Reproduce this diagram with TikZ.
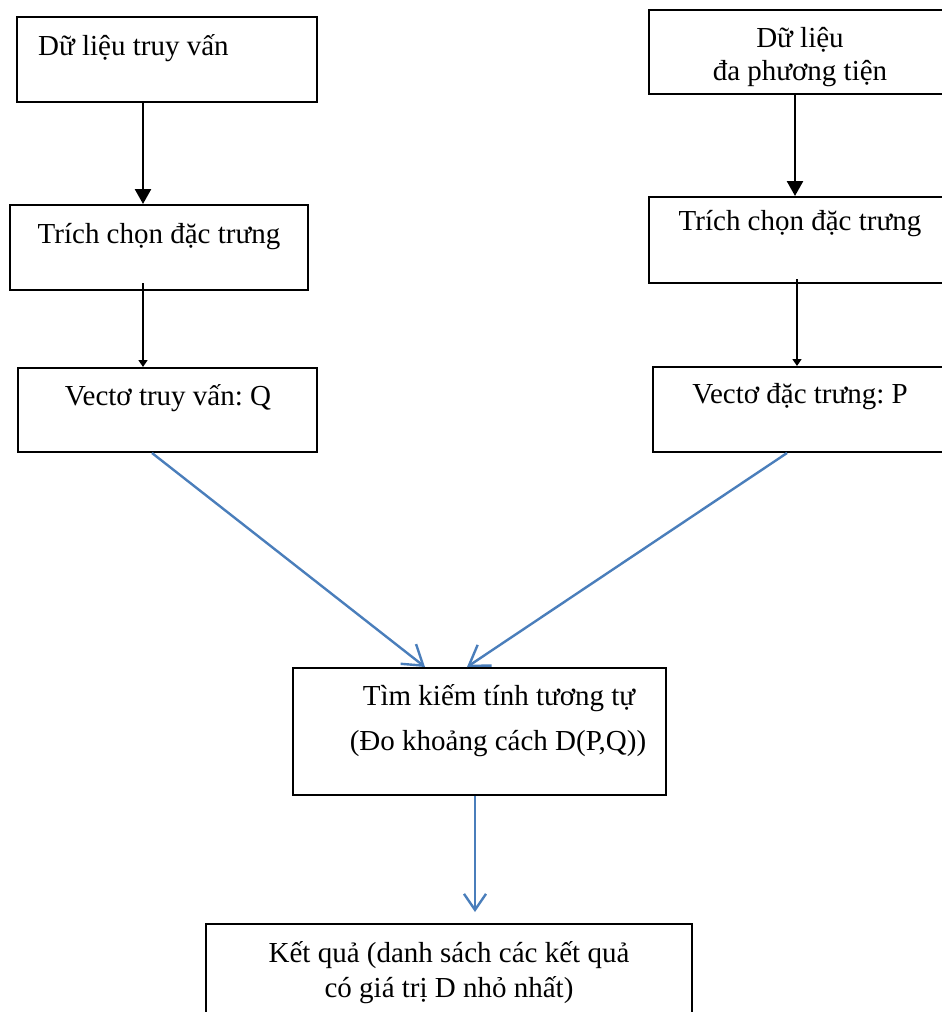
\documentclass[tikz,border=0pt]{standalone}
\usepackage{fontspec}
\setmainfont{Liberation Serif}
\usetikzlibrary{arrows.meta}
\definecolor{linkblue}{RGB}{74,126,187}
\frenchspacing
\begin{document}
\begin{tikzpicture}[x=1pt,y=-1pt,
  box/.style={draw=black,line width=2pt,rectangle,inner sep=0pt},
  lbl/.style={inner sep=0pt,font=\fontsize{29}{35}\selectfont},
  thickarr/.style={line width=2.6pt,-{Triangle[width=16pt,length=15pt]}},
  thinarr/.style={line width=1.5pt,-{Triangle[width=9pt,length=7pt]}},
  bluearr/.style={draw=linkblue,line width=2.4pt,-{Straight Barb[length=19pt,width=25pt,line width=2.4pt]}}]
\useasboundingbox (0,0) rectangle (942,1012);

% left column: query side
\node[box,minimum width=300pt,minimum height=85pt] (A) at (167,59.5) {};
\node[box,minimum width=298pt,minimum height=85pt] (B) at (159,247.5) {};
\node[box,minimum width=299pt,minimum height=84pt] (C) at (167.5,410) {};

% right column: multimedia side (runs past the right edge)
\node[box,minimum width=301pt,minimum height=84pt] (D) at (799.5,52) {};
\node[box,minimum width=301pt,minimum height=86pt] (E) at (799.5,240) {};
\node[box,minimum width=297pt,minimum height=85pt] (F) at (801.5,409.5) {};

% similarity search and result
\node[box,minimum width=373pt,minimum height=127pt] (G) at (479.5,731.5) {};
\node[box,minimum width=486pt,minimum height=106pt] (H) at (449,977) {};

% texts
\node[lbl,anchor=base west] (At) at (38,55) {Dữ liệu truy vấn};
\node[lbl,anchor=base] (Bt) at (159,243) {Trích chọn đặc trưng};
\node[lbl,anchor=base] (Ct) at (168,405) {Vectơ truy vấn: Q};
\node[lbl,anchor=base] (Dt1) at (800,47) {Dữ liệu};
\node[lbl,anchor=base] (Dt2) at (800,80) {đa phương tiện};
\node[lbl,anchor=base] (Et) at (800,230) {Trích chọn đặc trưng};
\node[lbl,anchor=base] (Ft) at (800,403) {Vectơ đặc trưng: P};
\node[lbl,anchor=base] (Gt1) at (499,705) {Tìm kiếm tính tương tự};
\node[lbl,anchor=base] (Gt2) at (498,750) {(Đo khoảng cách D(P,Q))};
\node[lbl,anchor=base] (Ht1) at (449,962) {Kết quả (danh sách các kết quả};
\node[lbl,anchor=base] (Ht2) at (449,997) {có giá trị D nhỏ nhất)};

% connectors
\draw[thickarr] ([xshift=-24pt]A.south) -- ([xshift=-24pt]A.south |- B.north);
\draw[thinarr] ([xshift=-16pt,yshift=8pt]B.south) -- ([xshift=-16pt]B.south |- C.north);
\draw[thickarr] ([xshift=-4.5pt]D.south) -- ([xshift=-4.5pt]D.south |- E.north);
\draw[thinarr] ([xshift=-2.5pt,yshift=5pt]E.south) -- ([xshift=-2.5pt]E.south |- F.north);
\draw[bluearr] ([xshift=-15.5pt]C.south) -- ([xshift=-54.5pt]G.north);
\draw[bluearr] ([xshift=-14.5pt]F.south) -- ([xshift=-12.5pt]G.north);
\draw[bluearr,shorten >=11pt,-{Straight Barb[length=16pt,width=22pt,line width=2.4pt]}] ([xshift=-4.5pt]G.south) -- ([xshift=-4.5pt]G.south |- H.north);
\end{tikzpicture}
\end{document}
